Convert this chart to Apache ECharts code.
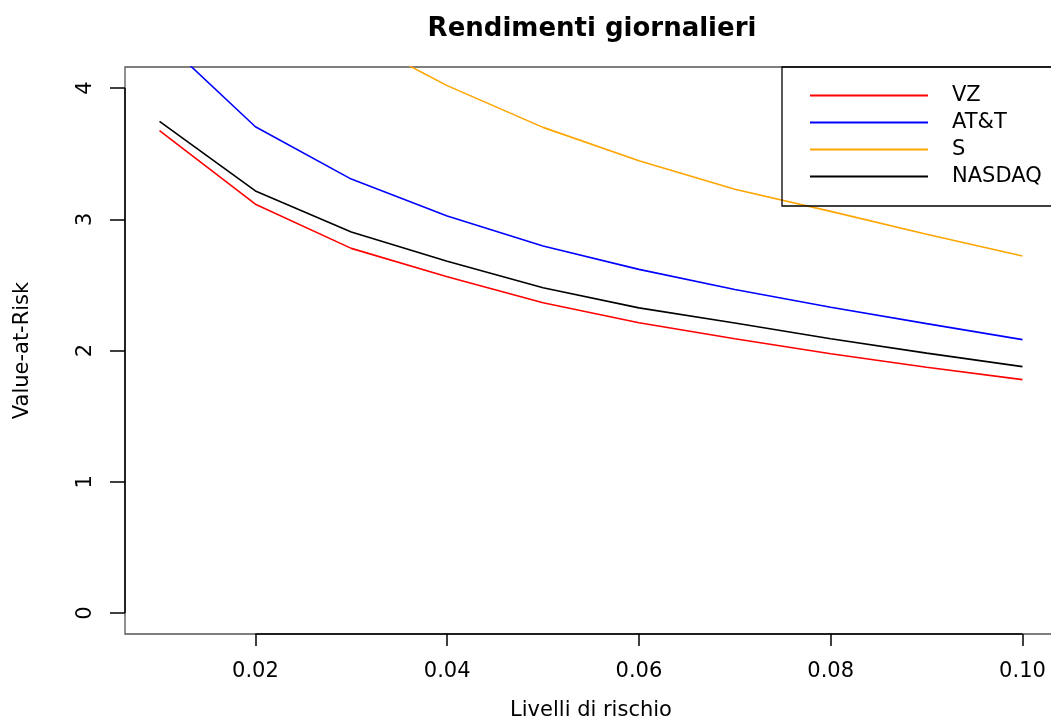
<!DOCTYPE html>
<html>
<head>
<meta charset="utf-8">
<script src="https://cdn.jsdelivr.net/npm/echarts@6/dist/echarts.min.js"></script>
<style>
html, body { margin: 0; padding: 0; background: #fff; }
#chart { width: 1051px; height: 722px; }
</style>
</head>
<body>
<div id="chart"></div>
<script>
// livelli di rischio (alpha)
var levels = [0.01, 0.02, 0.03, 0.04, 0.05, 0.06, 0.07, 0.08, 0.09, 0.10];
var vz     = [3.675, 3.115, 2.778, 2.562, 2.364, 2.211, 2.089, 1.975, 1.872, 1.778];
var att    = [4.39, 3.705, 3.306, 3.025, 2.796, 2.618, 2.465, 2.33, 2.205, 2.083];
var sprint = [5.9, 4.97, 4.40, 4.018, 3.70, 3.445, 3.229, 3.06, 2.885, 2.72];
var nasdaq = [3.746, 3.216, 2.903, 2.68, 2.478, 2.325, 2.21, 2.09, 1.98, 1.877];

var xTicks = [0.02, 0.04, 0.06, 0.08, 0.10];
var yTicks = [0, 1, 2, 3, 4];
var xMin = 0.0064, xMax = 0.1036;
var yMin = -0.16, yMax = 4.16;

var font = 'DejaVu Sans';

function pairs(vals) {
  var out = [];
  for (var i = 0; i < levels.length; i++) out.push([levels[i], vals[i]]);
  return out;
}

function mkSeries(name, vals, color) {
  return {
    name: name,
    type: 'line',
    data: pairs(vals),
    symbol: 'none',
    clip: true,
    lineStyle: { color: color, width: 1.6 },
    itemStyle: { color: color }
  };
}

var series = [
  mkSeries('VZ', vz, '#ff0000'),
  mkSeries('AT&T', att, '#0000ff'),
  mkSeries('S', sprint, '#ffa500'),
  mkSeries('NASDAQ', nasdaq, '#000000')
];

// R-style axis lines over the tick range
series[0].markLine = {
  silent: true,
  symbol: 'none',
  label: { show: false },
  lineStyle: { color: '#000', width: 1.5, type: 'solid' },
  data: [
    [{ coord: [xTicks[0], yMin] }, { coord: [xTicks[xTicks.length - 1], yMin] }],
    [{ coord: [xMin, yTicks[0]] }, { coord: [xMin, yTicks[yTicks.length - 1]] }]
  ]
};

var myChart = echarts.init(document.getElementById('chart'));
var option = {
  animation: false,
  backgroundColor: '#fff',
  title: {
    text: 'Rendimenti giornalieri',
    left: 587,
    textAlign: 'center',
    top: 11,
    textStyle: { fontFamily: font, fontWeight: 'bold', fontSize: 26, color: '#000' }
  },
  legend: {
    orient: 'vertical',
    left: 810,
    top: 85,
    padding: 0,
    icon: 'rect',
    itemWidth: 118,
    itemHeight: 2,
    itemGap: 6,
    textStyle: { fontFamily: font, fontSize: 21, color: '#000', padding: [0, 0, 0, 19] },
    data: ['VZ', 'AT&T', 'S', 'NASDAQ']
  },
  grid: {
    left: 125,
    top: 67,
    width: 932,
    height: 567,
    outerBoundsMode: 'none',
    containLabel: false,
    show: true,
    borderColor: '#555',
    borderWidth: 1.3,
    backgroundColor: 'transparent'
  },
  xAxis: {
    type: 'value',
    min: xMin,
    max: xMax,
    name: 'Livelli di rischio',
    nameLocation: 'middle',
    nameGap: 66,
    nameTextStyle: { fontFamily: font, fontSize: 21, color: '#000' },
    axisLine: { show: false, onZero: false },
    splitLine: { show: false },
    axisTick: { show: true, length: 12, customValues: xTicks, lineStyle: { color: '#000', width: 1.5 } },
    axisLabel: {
      customValues: xTicks,
      margin: 27,
      fontFamily: font, fontSize: 21, color: '#000',
      formatter: function (v) { return v.toFixed(2); }
    }
  },
  yAxis: {
    type: 'value',
    min: yMin,
    max: yMax,
    name: 'Value-at-Risk',
    nameLocation: 'middle',
    nameGap: 92,
    nameRotate: 90,
    nameTextStyle: { fontFamily: font, fontSize: 21, color: '#000' },
    axisLine: { show: false, onZero: false },
    splitLine: { show: false },
    axisTick: { show: true, length: 15, customValues: yTicks, lineStyle: { color: '#000', width: 1.5 } },
    axisLabel: {
      customValues: yTicks,
      rotate: 90,
      margin: 29,
      fontFamily: font, fontSize: 21, color: '#000'
    }
  },
  graphic: [{
    type: 'rect',
    z: 100,
    shape: { x: 782, y: 67, width: 400, height: 139 },
    style: { fill: 'none', stroke: '#000', lineWidth: 1.3 }
  }],
  series: series
};
myChart.setOption(option);
</script>
</body>
</html>
